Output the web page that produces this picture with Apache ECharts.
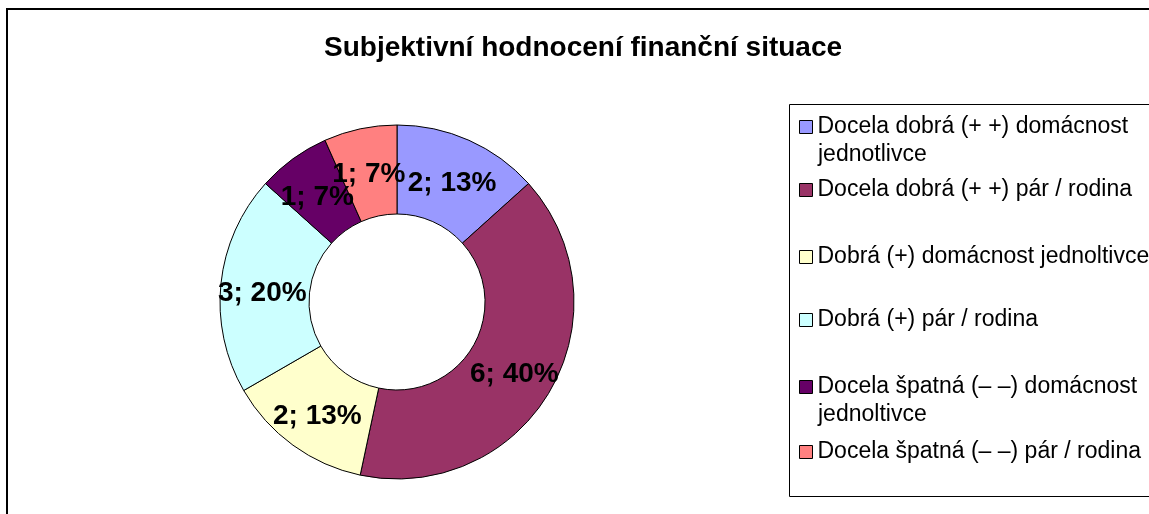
<!DOCTYPE html>
<html>
<head>
<meta charset="utf-8">
<script src="https://cdn.jsdelivr.net/npm/echarts@6/dist/echarts.min.js"></script>
<style>
  html, body { margin: 0; padding: 0; background: #fff; }
  #main { width: 1149px; height: 514px; }
</style>
</head>
<body>
<div id="main"></div>
<script>
// data
const categories = [
  'Docela dobrá (+ +) domácnost',
  'Docela dobrá (+ +) pár / rodina',
  'Dobrá (+) domácnost jednoltivce',
  'Dobrá (+) pár / rodina',
  'Docela špatná (– –) domácnost',
  'Docela špatná (– –) pár / rodina'
]
const values = [2, 6, 2, 3, 1, 1]
const colors = ['#9999FF', '#993366', '#FFFFCC', '#CCFFFF', '#660066', '#FF8080']
// legend rows (centre y of first text line), second lines for the wrapped items
const legendRows = [127, 190, 257, 320, 387, 452]
const secondLines = [{ text: 'jednotlivce', y: 155 }, { text: 'jednoltivce', y: 415 }]

const font = 'Liberation Sans, Arial, sans-serif'
const lineH = 27

let myChart = echarts.init(document.getElementById('main'))

// one legend per row, the reference spaces them unevenly
let legends = categories.map(function (name, i) {
  return {
    data: [name],
    orient: 'vertical',
    left: 799,
    top: legendRows[i] - lineH / 2,
    padding: 0,
    itemWidth: 13,
    itemHeight: 13,
    icon: 'rect',
    selectedMode: false,
    itemStyle: { borderColor: '#000', borderWidth: 1 },
    textStyle: { fontFamily: font, fontSize: 23, color: '#000', lineHeight: lineH }
  }
})

let graphics = [
  // outer chart border
  { type: 'rect', shape: { x: 7, y: 9, width: 1200, height: 600 }, style: { fill: null, stroke: '#000', lineWidth: 2 }, z: 0 },
  // legend box
  { type: 'rect', shape: { x: 789.5, y: 104.5, width: 400, height: 392 }, style: { fill: null, stroke: '#000', lineWidth: 1 }, z: 0 }
]
secondLines.forEach(function (s) {
  graphics.push({
    type: 'text', x: 818, y: s.y,
    style: { text: s.text, font: '23px ' + font, fill: '#000', textVerticalAlign: 'middle' }
  })
})

myChart.setOption({
  animation: false,
  color: colors,
  title: {
    text: 'Subjektivní hodnocení finanční situace',
    left: 324,
    top: 34,
    padding: 0,
    textStyle: { fontFamily: font, fontSize: 28, fontWeight: 'bold', color: '#000' }
  },
  legend: legends,
  graphic: graphics,
  series: [
    {
      type: 'pie',
      center: [397, 302],
      radius: [88, 177],
      startAngle: 90,
      clockwise: true,
      percentPrecision: 0,
      avoidLabelOverlap: false,
      itemStyle: { borderColor: '#000', borderWidth: 1 },
      label: {
        show: true,
        position: 'inside',
        // small empty first line pushes the text a few px down, like the reference
        formatter: '{s| }\n{c}; {d}%',
        fontFamily: font,
        fontSize: 28,
        fontWeight: 'bold',
        color: '#000',
        lineHeight: 30,
        rich: {
          s: { fontSize: 1, lineHeight: 10 }
        }
      },
      labelLayout: { hideOverlap: false },
      emphasis: { disabled: true },
      data: categories.map(function (name, i) {
        return { name: name, value: values[i] }
      })
    }
  ]
})
</script>
</body>
</html>
